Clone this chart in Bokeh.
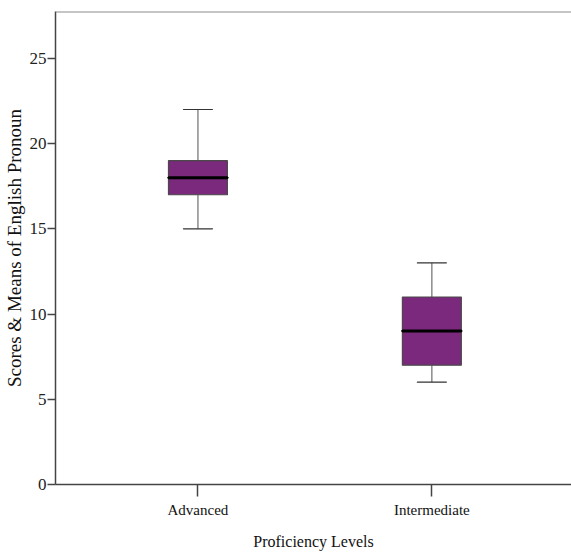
from bokeh.plotting import figure
from bokeh.models import Range1d, FixedTicker, ColumnDataSource, Span
from bokeh.embed import file_html
from bokeh.resources import INLINE

# Data
categories = ["Advanced", "Intermediate"]
lower = [15, 6]
q1 = [17, 7]
median = [18, 9]
q3 = [19, 11]
upper = [22, 13]
y_ticks = [0, 5, 10, 15, 20, 25]

xpos = list(range(len(categories)))
src = ColumnDataSource(dict(x=xpos, lower=lower, q1=q1, median=median, q3=q3, upper=upper))

p = figure(x_range=Range1d(-0.609, 1.597), y_range=Range1d(0, 27.75), width=571, height=552,
           output_backend="svg", toolbar_location=None,
           min_border_left=54, min_border_right=0, min_border_top=11, min_border_bottom=65)

# whisker stems
p.segment(x0="x", y0="q3", x1="x", y1="upper", source=src, line_color="#6e6e6e", line_width=1.2)
p.segment(x0="x", y0="lower", x1="x", y1="q1", source=src, line_color="#6e6e6e", line_width=1.2)
# caps
p.rect(x="x", y="upper", width=0.125, height=0.001, source=src, line_color="#333333", line_width=1.2)
p.rect(x="x", y="lower", width=0.125, height=0.001, source=src, line_color="#333333", line_width=1.2)
# boxes
p.vbar(x="x", bottom="q1", top="q3", width=0.252, source=src,
       fill_color="#7a297c", line_color="#4a4a4a", line_width=1.2)
# medians
p.rect(x="x", y="median", width=0.252, height=0.001, source=src, line_color="#000000", line_width=3)

p.xgrid.visible = False
p.ygrid.visible = False
p.outline_line_color = None
p.add_layout(Span(location=27.75, dimension="width", line_color="#8c8c8c", line_width=2))

# y axis
p.yaxis.ticker = FixedTicker(ticks=y_ticks)
p.yaxis.axis_label = "Scores & Means of English Pronoun"
p.yaxis.axis_label_text_font = "Liberation Serif"
p.yaxis.axis_label_text_font_style = "normal"
p.yaxis.axis_label_text_font_size = "19px"
p.yaxis.axis_label_text_color = "#111111"
p.yaxis.axis_label_standoff = 2
p.yaxis.major_label_text_font = "Liberation Sans Narrow"
p.yaxis.major_label_text_font_size = "17px"
p.yaxis.major_label_text_color = "#222222"
p.yaxis.major_label_standoff = 1
p.yaxis.major_tick_out = 8
p.yaxis.major_tick_in = 0
p.yaxis.minor_tick_line_color = None
p.yaxis.axis_line_color = "#444444"
p.yaxis.axis_line_width = 1.5
p.yaxis.major_tick_line_color = "#444444"
p.yaxis.major_tick_line_width = 1.5

# x axis
p.xaxis.ticker = FixedTicker(ticks=xpos)
p.xaxis.major_label_overrides = {i: c for i, c in zip(xpos, categories)}
p.xaxis.axis_label = "Proficiency Levels"
p.xaxis.axis_label_text_font = "Liberation Serif"
p.xaxis.axis_label_text_font_style = "normal"
p.xaxis.axis_label_text_font_size = "16px"
p.xaxis.axis_label_text_color = "#111111"
p.xaxis.axis_label_standoff = 12
p.xaxis.major_label_text_font = "Liberation Serif"
p.xaxis.major_label_text_font_size = "15px"
p.xaxis.major_label_text_color = "#111111"
p.xaxis.major_label_standoff = 5
p.xaxis.major_tick_out = 12
p.xaxis.major_tick_in = 0
p.xaxis.minor_tick_line_color = None
p.xaxis.axis_line_color = "#444444"
p.xaxis.axis_line_width = 1.5
p.xaxis.major_tick_line_color = "#444444"
p.xaxis.major_tick_line_width = 1.5

open("out.html", "w").write(file_html(p, INLINE))
